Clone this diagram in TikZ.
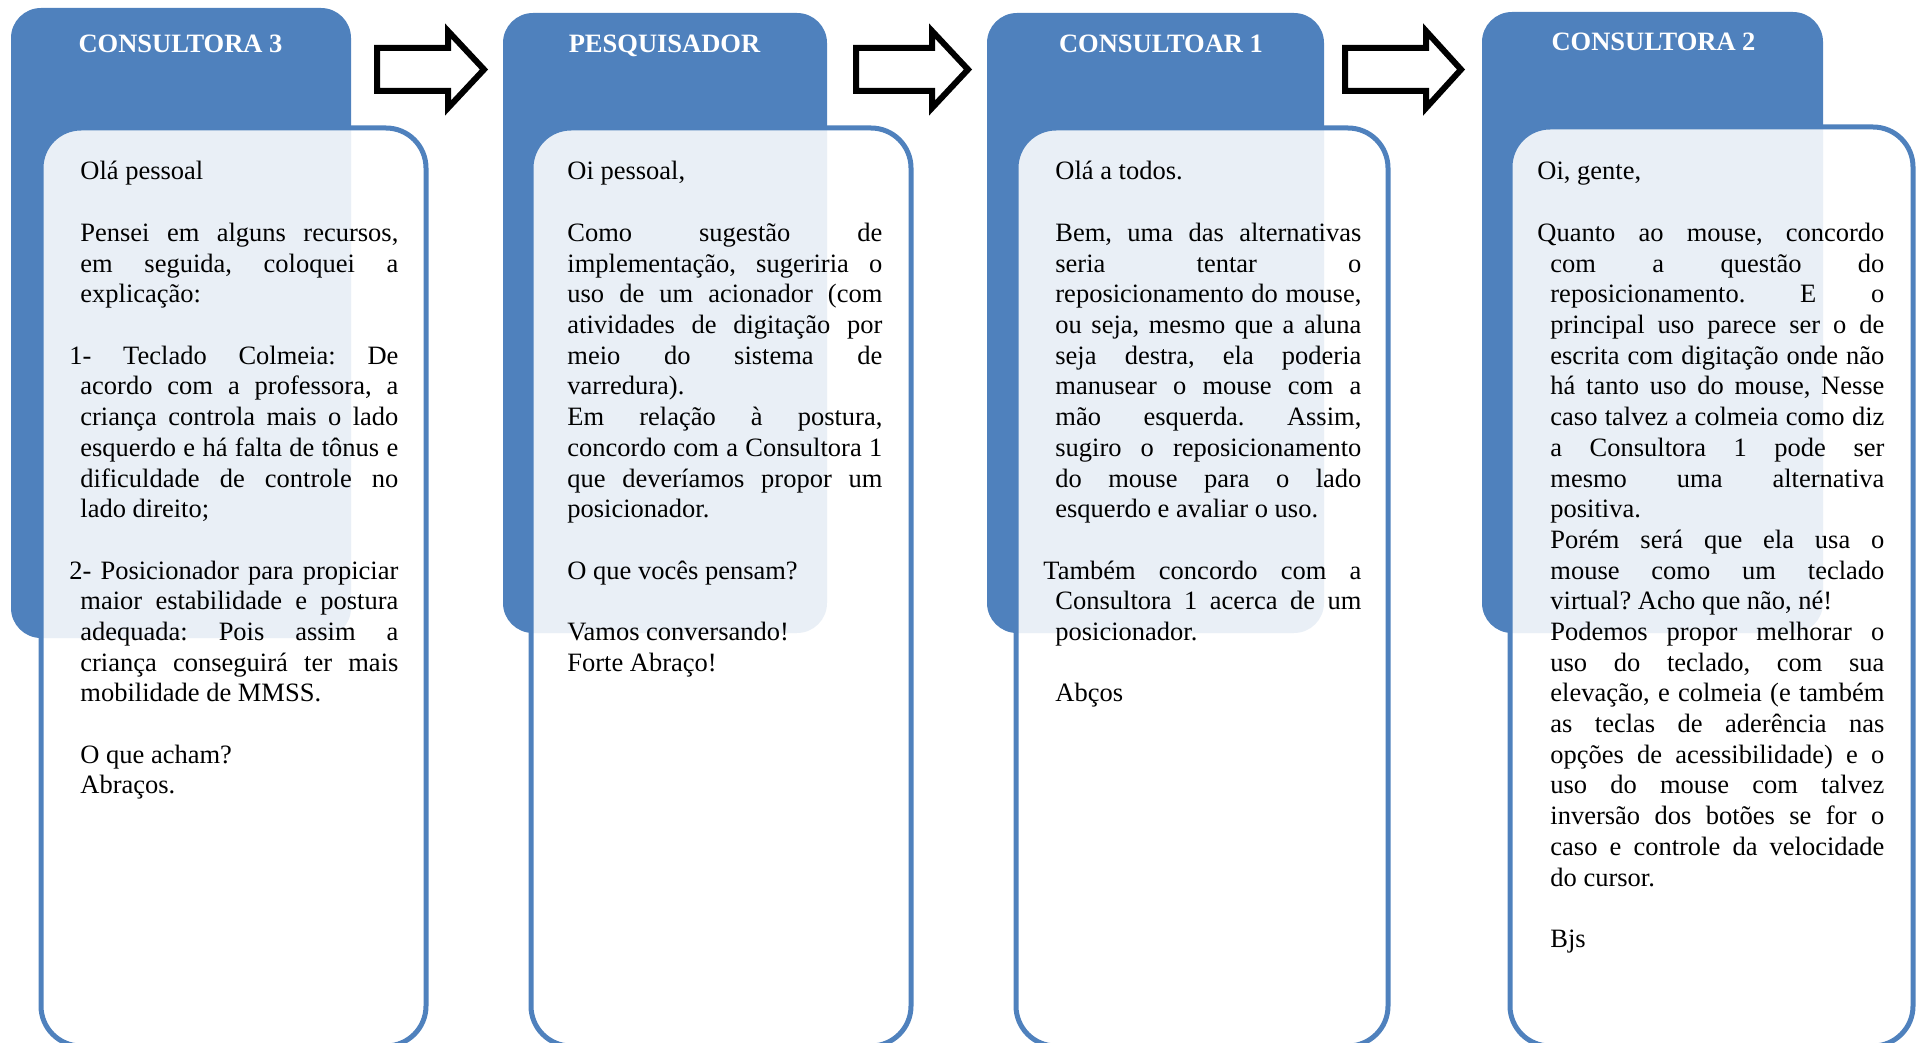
\documentclass[tikz,border=0pt]{standalone}
\usepackage{fontspec}
\setmainfont{Liberation Serif}
\frenchspacing
\definecolor{hdr}{HTML}{4F81BD}
\newcommand\J[1]{\hbox to \hsize{#1}}
\newcommand\Lx[1]{\hbox to \hsize{#1\hfil}}
\newcommand\Jo[2]{\hbox to \hsize{\kern-#1 #2}}
\newcommand\E{\hbox{}}
\newcommand\msgsetup[1]{\hsize=#1\relax\parindent=0pt\lineskiplimit=-100pt\baselineskip=15.35pt\lineskip=0pt\frenchspacing}
\tikzset{
 hdrbox/.style={fill=hdr, rounded corners=15pt},
 msgbox/.style={draw=hdr, line width=2.5pt, fill=white, fill opacity=0.88, draw opacity=1, rounded corners=20pt},
 blockarrow/.style={draw=black, line width=3pt, fill=white, miter limit=10},
 titletxt/.style={text=white, font=\fontsize{13.25pt}{15pt}\selectfont\bfseries, inner sep=0pt, anchor=base},
 msgtxt/.style={font=\fontsize{13.25pt}{15.35pt}\selectfont, inner sep=0pt, anchor=base west, text=black},
}
\begin{document}
\begin{tikzpicture}[x=0.5pt,y=-0.5pt]
\useasboundingbox (0,0) rectangle (1921,1043);
% headers
\path[hdrbox] (11,8) rectangle (351,638);
\path[hdrbox] (503,13) rectangle (827,633);
\path[hdrbox] (987,13) rectangle (1324,633);
\path[hdrbox] (1482,12) rectangle (1823,633);
% message boxes
\path[msgbox] (41,128) rectangle (426,1046);
\path[msgbox] (531,128) rectangle (911,1046);
\path[msgbox] (1016,128) rectangle (1388,1046);
\path[msgbox] (1510,127) rectangle (1913,1046);
% block arrows
\path[blockarrow] (377,48) -- (448,48) -- (448,31) -- (484,69.5) -- (448,108) -- (448,91) -- (377,91) -- cycle;
\path[blockarrow] (856,48) -- (932,48) -- (932,31) -- (968,69.5) -- (932,108) -- (932,91) -- (856,91) -- cycle;
\path[blockarrow] (1345,48) -- (1426,48) -- (1426,31) -- (1461,69.5) -- (1426,108) -- (1426,91) -- (1345,91) -- cycle;
% titles
\node[titletxt] (h1) at (180.5,53) {CONSULTORA 3};
\node[titletxt] (h2) at (664.5,53) {PESQUISADOR};
\node[titletxt] (h3) at (1161,53) {CONSULTOAR 1};
\node[titletxt] (h4) at (1653.5,51) {CONSULTORA 2};
% texts
\node[msgtxt] (t1) at (80,180) {\vtop{\msgsetup{159pt}%
\Lx{Olá pessoal}
\E
\J{Pensei em alguns recursos,}
\J{em seguida, coloquei a}
\Lx{explicação:}
\E
\Jo{5.5pt}{1- Teclado Colmeia: De}
\J{acordo com a professora, a}
\J{criança controla mais o lado}
\J{esquerdo e há falta de tônus e}
\J{dificuldade de controle no}
\Lx{lado direito;}
\E
\Jo{5.5pt}{2- Posicionador para propiciar}
\J{maior estabilidade e postura}
\J{adequada: Pois assim a}
\J{criança conseguirá ter mais}
\Lx{mobilidade de MMSS.}
\E
\Lx{O que acham?}
\Lx{Abraços.}
}};
\node[msgtxt] (t2) at (567,180) {\vtop{\msgsetup{157.5pt}%
\Lx{Oi pessoal,}
\E
\J{Como sugestão de}
\J{implementação, sugeriria o}
\J{uso de um acionador (com}
\J{atividades de digitação por}
\J{meio do sistema de}
\Lx{varredura).}
\J{Em relação à postura,}
\J{concordo com a Consultora 1}
\J{que deveríamos propor um}
\Lx{posicionador.}
\E
\Lx{O que vocês pensam?}
\E
\Lx{Vamos conversando!}
\Lx{Forte Abraço!}
}};
\node[msgtxt] (t3) at (1055,180) {\vtop{\msgsetup{153pt}%
\Lx{Olá a todos.}
\E
\J{Bem, uma das alternativas}
\J{seria tentar o}
\J{reposicionamento do mouse,}
\J{ou seja, mesmo que a aluna}
\J{seja destra, ela poderia}
\J{manusear o mouse com a}
\J{mão esquerda. Assim,}
\J{sugiro o reposicionamento}
\J{do mouse para o lado}
\Lx{esquerdo e avaliar o uso.}
\E
\Jo{6pt}{Também concordo com a}
\J{Consultora 1 acerca de um}
\Lx{posicionador.}
\E
\Lx{Abços}
}};
\node[msgtxt] (t4) at (1550,180) {\vtop{\msgsetup{167pt}%
\hbox{\kern-6.5pt Oi, gente,}
\E
\Jo{6.5pt}{Quanto ao mouse, concordo}
\J{com a questão do}
\J{reposicionamento. E o}
\J{principal uso parece ser o de}
\J{escrita com digitação onde não}
\J{há tanto uso do mouse, Nesse}
\J{caso talvez a colmeia como diz}
\J{a Consultora 1 pode ser}
\J{mesmo uma alternativa}
\Lx{positiva.}
\J{Porém será que ela usa o}
\J{mouse como um teclado}
\Lx{virtual? Acho que não, né!}
\J{Podemos propor melhorar o}
\J{uso do teclado, com sua}
\J{elevação, e colmeia (e também}
\J{as teclas de aderência nas}
\J{opções de acessibilidade) e o}
\J{uso do mouse com talvez}
\J{inversão dos botões se for o}
\J{caso e controle da velocidade}
\Lx{do cursor.}
\E
\Lx{Bjs}
}};
\end{tikzpicture}
\end{document}
